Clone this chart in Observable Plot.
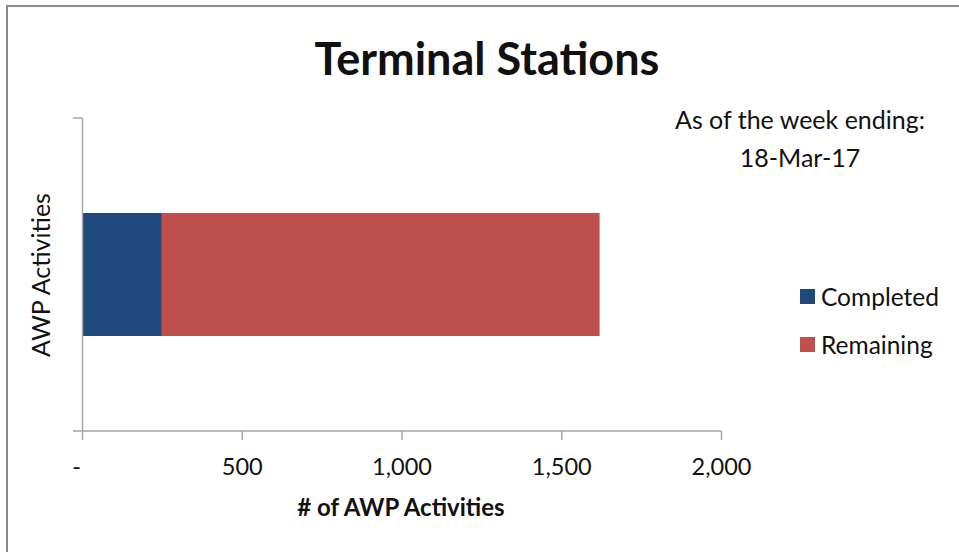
<!DOCTYPE html>
<html><head><meta charset="utf-8">
<script src="https://cdn.jsdelivr.net/npm/d3@7"></script>
<script src="https://cdn.jsdelivr.net/npm/@observablehq/plot@0.6"></script>
<style>
body{margin:0;background:#fff;font-family:Lato,"Open Sans",sans-serif;color:#111}
#wrap{position:relative;width:959px;height:552px;overflow:hidden;background:#fff}
#border{position:absolute;left:6px;top:5px;width:1000px;height:600px;border:2px solid #8c8c8c;box-sizing:border-box}
#chart{position:absolute;left:0;top:0}
.t{position:absolute;white-space:nowrap}
#title{left:0;width:974px;top:31px;text-align:center;font-weight:bold;font-size:45px;line-height:54px}
#note{left:650px;width:300px;top:100px;text-align:center;font-size:25px;line-height:38px}
#ylab{left:40px;top:275px;font-size:25px;transform:translate(-50%,-50%) rotate(-90deg)}
#xlab{left:401px;top:492px;transform:translateX(-50%);font-weight:bold;font-size:24px}
.leg{left:800px;font-size:24.5px;display:flex;align-items:center}
.sw{width:15px;height:15px;margin-right:6px}
</style></head>
<body>
<div id="wrap">
  <div id="border"></div>
  <div id="chart"></div>
  <div class="t" id="title"></div>
  <div class="t" id="note"></div>
  <div class="t" id="ylab"></div>
  <div class="t" id="xlab"></div>
  <div id="legend"></div>
</div>
<script>
// ---- data ----
const titleText = "Terminal Stations";
const noteLines = ["As of the week ending:", "18-Mar-17"];
const categories = ["AWP Activities"];
const seriesNames = ["Completed", "Remaining"];
const seriesColors = ["#1F497D", "#C0504D"];
const completedValues = [250];
const remainingValues = [1370];
const xTicks = [0, 500, 1000, 1500, 2000];
const xTickLabels = ["-\u00a0\u00a0", "500", "1,000", "1,500", "2,000"];
const xLabel = "# of AWP Activities";
const yLabel = "AWP Activities";

// ---- build table ----
const rows = [];
categories.forEach((c, i) => {
  rows.push({cat: c, status: seriesNames[0], value: completedValues[i]});
  rows.push({cat: c, status: seriesNames[1], value: remainingValues[i]});
});

const W = 959, H = 552, mL = 82, mR = 238, mT = 118, mB = 121;
const axisColor = "#a6a6a6";

const plot = Plot.plot({
  width: W, height: H,
  marginLeft: mL, marginRight: mR, marginTop: mT, marginBottom: mB,
  style: {fontFamily: "Lato, 'Open Sans', sans-serif", fontSize: "23.5px", color: "#111", background: "transparent", overflow: "visible"},
  x: {domain: [0, 2000], label: null},
  y: {domain: categories, padding: 0.435, label: null},
  color: {domain: seriesNames, range: seriesColors},
  marks: [
    Plot.barX(rows, {x: "value", y: "cat", fill: "status"}),
    Plot.ruleX([0], {stroke: axisColor, strokeWidth: 1.5}),
    Plot.axisX({ticks: xTicks, tickFormat: (d) => xTickLabels[xTicks.indexOf(d)], tickSize: 9, tickPadding: 18, stroke: axisColor, strokeWidth: 1.5, fill: "#111", label: null}),
    Plot.axisY({ticks: [], label: null})
  ]
});
document.getElementById("chart").appendChild(plot);

// axis baseline and category boundary tick (decoration)
const svg = d3.select(plot);
const x = plot.scale("x");
const x0 = x.apply(0), xEnd = x.apply(2000);
svg.append("line").attr("x1", x0 - 9).attr("x2", xEnd).attr("y1", H - mB).attr("y2", H - mB)
  .attr("stroke", axisColor).attr("stroke-width", 1.5);
svg.append("line").attr("x1", x0 - 9).attr("x2", x0).attr("y1", mT).attr("y2", mT)
  .attr("stroke", axisColor).attr("stroke-width", 1.5);

// texts
document.getElementById("title").textContent = titleText;
document.getElementById("note").innerHTML = noteLines.map(s => `<div>${s}</div>`).join("");
document.getElementById("ylab").textContent = yLabel;
document.getElementById("xlab").textContent = xLabel;

// legend
const legend = document.getElementById("legend");
const legTops = [298, 346];
seriesNames.forEach((n, i) => {
  const d = document.createElement("div");
  d.className = "t leg";
  d.style.top = (legTops[i] - 16) + "px";
  d.innerHTML = `<span class="sw" style="background:${seriesColors[i]}"></span><span>${n}</span>`;
  legend.appendChild(d);
});
</script>
</body></html>
